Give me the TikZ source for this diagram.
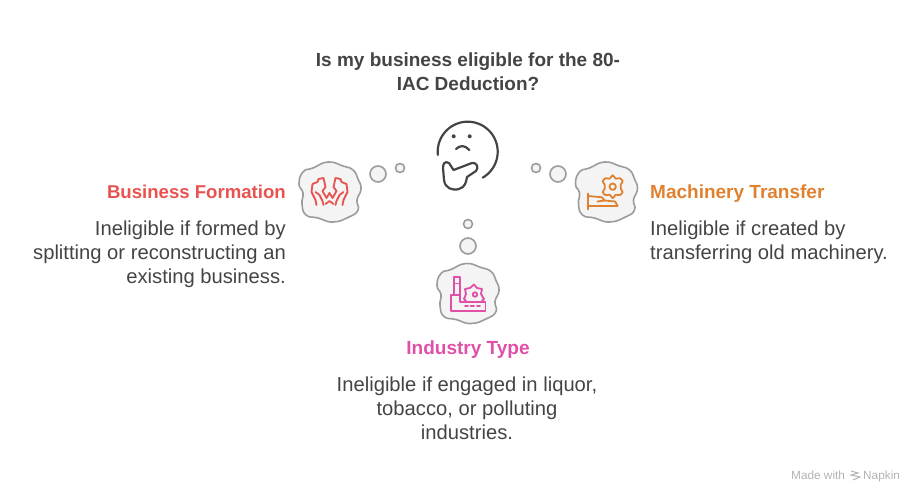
\documentclass[tikz,border=0pt]{standalone}
\usepackage{fontspec}
\setmainfont{Liberation Sans}
\definecolor{inkgray}{HTML}{444444}
\definecolor{bubblegray}{HTML}{9C9C9C}
\definecolor{bubblefill}{HTML}{F4F4F4}
\definecolor{formred}{HTML}{E8524F}
\definecolor{machorange}{HTML}{E0812F}
\definecolor{indpink}{HTML}{E04FA8}
\tikzset{
  bubble/.style={circle,draw=bubblegray,fill=bubblefill,line width=1.6pt,inner sep=0pt},
  bigbubble/.style={bubble,minimum size=16pt},
  smallbubble/.style={bubble,minimum size=9pt},
  body/.style={inner sep=0pt,text=inkgray,font=\fontsize{20.2}{24}\selectfont},
  head/.style={inner sep=0pt,font=\fontsize{19}{24}\selectfont\bfseries},
  icon/.style={line width=1.8pt,line cap=round,line join=round},
  cloudpic/.pic={
    \draw[draw=bubblegray,fill=bubblefill,line width=1.6pt] plot[smooth cycle,tension=0.85] coordinates {
      (-31,-8) (-27,-20) (-17,-24) (-2,-30) (13,-26) (23,-22) (28,-13) (31,-3)
      (27,8) (28,18) (19,25) (3,30) (-12,26) (-24,23) (-28,12) (-27,1)};
  }
}
\begin{document}
\begin{tikzpicture}[x=1pt,y=-1pt]
  \useasboundingbox (0,0) rectangle (924,502);
  \node[head,text=inkgray,align=center] (title) at (468,72) {Is my business eligible for the 80-\\IAC Deduction?};

  \draw[icon,inkgray,line width=2.2pt] plot[domain=186:-60,samples=50] ({467.7+30*cos(\x)},{151.7-30*sin(\x)});
  \fill[inkgray] (453.7,136.3) circle (2) (469.7,136.3) circle (2);
  \draw[icon,inkgray,line width=2.2pt] (456,149) .. controls (460,145) and (465,145) .. (469.3,150);
  \draw[icon,inkgray,line width=2.2pt] (453.5,170) -- (449,163) .. controls (445,161) and (443,163) .. (443,168)
    -- (444,180) .. controls (445,188) and (452,191) .. (459,189) .. controls (465,187) and (466,183) .. (467,177)
    -- (476,171) .. controls (479,168) and (477,162) .. (472,163) -- cycle;

  \pic (cloudform) at (330,192) {cloudpic};
  \pic (cloudmach) at (606.5,192) {cloudpic};
  \pic (cloudind) at (468,293.5) {cloudpic};

  \node[bigbubble] (formbig) at (378,174) {};
  \node[smallbubble] (formsmall) at (400,168) {};
  \node[bigbubble] (machbig) at (558,174) {};
  \node[smallbubble] (machsmall) at (536,168) {};
  \node[bigbubble] (indbig) at (468,246) {};
  \node[smallbubble] (indsmall) at (468,224) {};

  \begin{scope}[shift={(329.5,192)}]
    \foreach \s in {1,-1} {
      \draw[icon,formred,xscale=\s] (-17,-8) -- (-12,-10) -- (-11,-13) -- (-6,-14) -- (-4,-5) -- (-7,-1) -- (-3,6) -- (0,1);
      \draw[icon,formred,xscale=\s] (-17,-8) -- (-18,0) -- (-14,8) -- (-13,13);
      \draw[icon,formred,xscale=\s] (-14,0) -- (-10,3) -- (-7,9) -- (-6,13);
    }
    \draw[icon,formred] (-4,12) -- (0,9) -- (4,12);
  \end{scope}

  \begin{scope}[shift={(612.7,186.7)}]
    \draw[icon,machorange] plot[smooth cycle,tension=0.5] coordinates {
      (0,-11.5) (3,-8) (7,-8.5) (10,-5.5) (8,-2) (8,2) (10,5.5) (7,8.5) (3,8) (0,11.5)
      (-3,8) (-7,8.5) (-10,5.5) (-8,2) (-8,-2) (-10,-5.5) (-7,-8.5) (-3,-8)};
    \draw[icon,machorange] (0,0) circle (3.2);
  \end{scope}
  \draw[icon,machorange] (588.3,193.5) -- (588.3,209.5);
  \draw[icon,machorange] (588.3,196) -- (602,197.3) -- (604.5,200.5) -- (597.5,201.5);
  \draw[icon,machorange] (604.5,200.5) -- (615,201.5) -- (617.7,206) -- (588.3,206);

  \draw[icon,indpink] (454,295) -- (454,277) -- (460,277) -- (460,295);
  \draw[icon,indpink] (454,283.5) -- (460,283.5);
  \draw[icon,indpink] (451,295) -- (460,295) -- (460,302) -- (485.5,302) -- (485.5,311) -- (451,311) -- cycle;
  \draw[icon,indpink] (466,301) -- (464,299) -- (466,294) -- (465,289) -- (470,288) -- (474,284.5) -- (477,288) -- (482,289) -- (481,294) -- (484,299) -- (482,301);
  \draw[icon,indpink] (475,294.5) circle (2.2);
  \draw[icon,indpink] (465,306) -- (468,306) (470.5,306) -- (474,306) (477,306) -- (480,306);

  \node[head,text=formred,anchor=base east,font=\fontsize{18.6}{24}\selectfont\bfseries] (formhead) at (286,198.5) {Business Formation};
  \node[body,align=right,anchor=north east] (formbody) at (286,220.5) {Ineligible if formed by\\splitting or reconstructing an\\existing business.};
  \node[head,text=machorange,anchor=base west] (machhead) at (650,198.5) {Machinery Transfer};
  \node[body,align=left,anchor=north west] (machbody) at (650,220.5) {Ineligible if created by\\transferring old machinery.};
  \node[head,text=indpink,anchor=base] (indhead) at (468,354.5) {Industry Type};
  \node[body,align=center,anchor=north] (indbody) at (467,376.5) {Ineligible if engaged in liquor,\\tobacco, or polluting\\industries.};

  \node[inner sep=0pt,anchor=base west,text=black!30,font=\fontsize{11.8}{13}\selectfont] (madewith) at (791,479) {Made with};
  \draw[black!30,line width=1pt] (851,471) -- (858,473) -- (851,475) -- (860,477) -- (853,480);
  \node[inner sep=0pt,anchor=base west,text=black!30,font=\fontsize{11.8}{13}\selectfont] (napkin) at (863,479) {Napkin};
\end{tikzpicture}
\end{document}
